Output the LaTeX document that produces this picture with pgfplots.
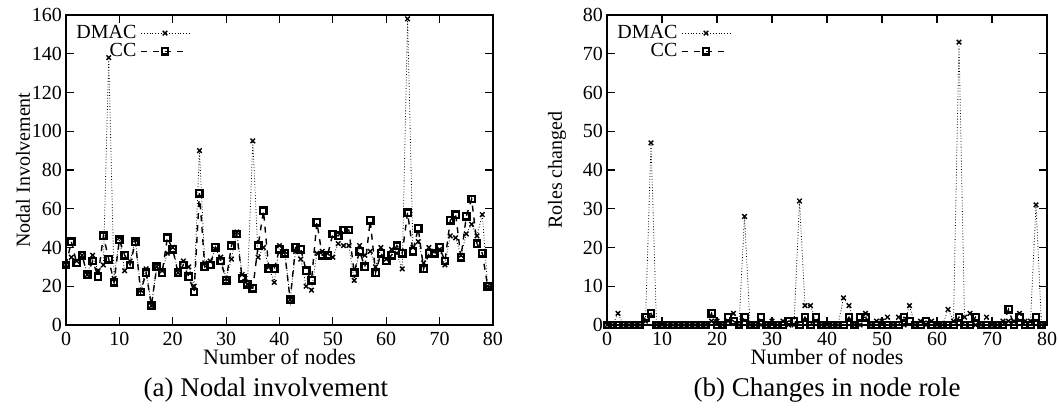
\documentclass[border=0pt]{standalone}
\usepackage{fontspec}
\setmainfont{Liberation Serif}
\usepackage{pgfplots}
\usepackage{pgfplotstable}
\pgfplotsset{compat=1.18}

% node, DMAC, CC
\pgfplotstableread{
x dmac cc
0 31 31
1 35 43
2 33 32
3 36 36
4 26 26
5 36 33
6 28 25
7 31 46
8 138 34
9 24 22
10 45 44
11 28 36
12 33 31
13 44 43
14 18 17
15 29 27
16 10 10
17 30 30
18 28 27
19 37 45
20 40 39
21 27 27
22 33 31
23 30 25
24 20 17
25 90 68
26 32 30
27 33 31
28 39 40
29 35 33
30 24 23
31 34 41
32 48 47
33 26 24
34 21 21
35 95 19
36 35 41
37 40 59
38 30 29
39 22 29
40 41 39
41 38 37
42 13 13
43 38 40
44 34 39
45 20 28
46 18 23
47 37 53
48 38 36
49 37 36
50 35 47
51 42 46
52 41 49
53 41 49
54 23 27
55 41 38
56 36 30
57 38 54
58 30 27
59 40 37
60 34 33
61 39 36
62 37 41
63 29 37
64 158 58
65 40 38
66 43 50
67 32 29
68 40 37
69 38 37
70 39 40
71 31 33
72 46 54
73 45 57
74 36 35
75 47 56
76 52 65
77 46 42
78 57 37
79 20 20
}\involvement

\pgfplotstableread{
x dmac cc
0 0 0
1 0 0
2 3 0
3 0 0
4 0 0
5 0 0
6 0 0
7 1 2
8 47 3
9 0 0
10 0 0
11 0 0
12 0 0
13 0 0
14 0 0
15 0 0
16 0 0
17 0 0
18 0 0
19 1 3
20 1 0
21 0 0
22 1 2
23 3 1
24 0 0
25 28 2
26 0 0
27 0 0
28 0 2
29 0 0
30 1 0
31 0 0
32 1 0
33 0 1
34 0 1
35 32 0
36 5 2
37 5 0
38 1 2
39 0 0
40 0 0
41 0 0
42 0 0
43 7 0
44 5 2
45 0 0
46 0 2
47 3 2
48 0 0
49 1 0
50 1 0
51 2 0
52 0 0
53 2 0
54 0 2
55 5 1
56 0 0
57 1 0
58 0 1
59 1 0
60 0 0
61 0 0
62 4 0
63 1 0
64 73 2
65 2 0
66 3 0
67 0 2
68 0 0
69 2 0
70 0 0
71 0 0
72 1 0
73 1 4
74 1 0
75 3 2
76 1 0
77 1 0
78 31 2
79 0 0
}\roles

\pgfplotsset{
  gp/.style={
    scale only axis, height=155pt,
    xmin=0, xmax=80, xtick={0,10,...,80}, ymin=0,
    axis line style={line width=1pt},
    tick style={black, line width=0.6pt},
    major tick length=4pt, tick align=inside,
    xtick pos=both, ytick pos=both,
    tick label style={font=\fontsize{10}{11}\selectfont},
    yticklabel style={xshift=1.5pt},
    label style={font=\fontsize{11}{12}\selectfont},
    /pgf/number format/assume math mode=true,
    xlabel={Number of nodes},
    xlabel style={yshift=5pt},
    clip=false,
    legend style={draw=none, fill=none, at={(0.0,0.995)}, anchor=north west,
      font=\fontsize{10}{11}\selectfont, row sep=-3pt},
    legend cell align=right, legend plot pos=right,
    legend image code/.code={\draw[mark repeat=2,mark phase=2,##1]
      plot coordinates {(0.1cm,0cm)(0.52cm,0cm)(0.94cm,0cm)};},
  },
  dmacline/.style={black, line width=0.4pt, densely dotted, mark=x,
    mark size=1.6pt, mark options={solid, line width=0.7pt}},
  ccline/.style={black, line width=0.7pt, dashed, mark=square,
    mark size=1.6pt, mark options={solid, line width=1.2pt}},
}

\begin{document}
\begin{tikzpicture}
\begin{axis}[gp, at={(0,0)}, width=213.5pt,
    ymax=160, ytick={0,20,...,160}, ylabel={Nodal Involvement},
    every axis y label/.style={at={(axis description cs:-0.1007,0.5)},
      rotate=90, anchor=center}]
\addplot[dmacline] table[x=x, y=dmac] {\involvement};
\addlegendentry{DMAC}
\addplot[ccline] table[x=x, y=cc] {\involvement};
\addlegendentry{CC}
\node[font=\fontsize{13.5}{15}\selectfont] at (rel axis cs:0.468,-0.21) {(a) Nodal involvement};
\end{axis}
\begin{axis}[gp, at={(270.5pt,0)}, width=220pt,
    ymax=80, ytick={0,10,...,80}, ylabel={Roles changed},
    every axis y label/.style={at={(axis description cs:-0.1136,0.5)},
      rotate=90, anchor=center}]
\addplot[dmacline] table[x=x, y=dmac] {\roles};
\addlegendentry{DMAC}
\addplot[ccline] table[x=x, y=cc] {\roles};
\addlegendentry{CC}
\node[font=\fontsize{13.5}{15}\selectfont] at (rel axis cs:0.5,-0.21) {(b) Changes in node role};
\end{axis}
\pgfresetboundingbox
\path (-33pt,-42.5pt) rectangle (496.5pt,162.5pt);
\end{tikzpicture}
\end{document}
